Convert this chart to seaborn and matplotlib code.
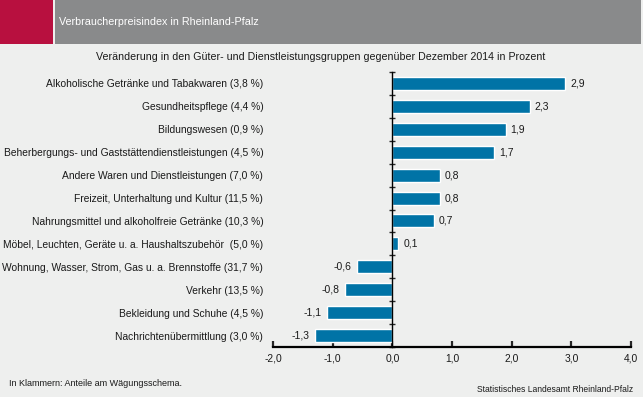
import matplotlib
matplotlib.use("Agg")
import matplotlib.pyplot as plt
import seaborn as sns
import pandas as pd
import numpy as np
from matplotlib.patches import Rectangle
from matplotlib.ticker import FixedLocator

categories = [
    "Alkoholische Getränke und Tabakwaren (3,8 %)",
    "Gesundheitspflege (4,4 %)",
    "Bildungswesen (0,9 %)",
    "Beherbergungs- und Gaststättendienstleistungen (4,5 %)",
    "Andere Waren und Dienstleistungen (7,0 %)",
    "Freizeit, Unterhaltung und Kultur (11,5 %)",
    "Nahrungsmittel und alkoholfreie Getränke (10,3 %)",
    "Möbel, Leuchten, Geräte u. a. Haushaltszubehör  (5,0 %)",
    "Wohnung, Wasser, Strom, Gas u. a. Brennstoffe (31,7 %)",
    "Verkehr (13,5 %)",
    "Bekleidung und Schuhe (4,5 %)",
    "Nachrichtenübermittlung (3,0 %)",
]
values = [2.9, 2.3, 1.9, 1.7, 0.8, 0.8, 0.7, 0.1, -0.6, -0.8, -1.1, -1.3]
x_ticks = [-2.0, -1.0, 0.0, 1.0, 2.0, 3.0, 4.0]

header_text = "Verbraucherpreisindex in Rheinland-Pfalz"
title_text = "Veränderung in den Güter- und Dienstleistungsgruppen gegenüber Dezember 2014 in Prozent"
note_text = "In Klammern: Anteile am Wägungsschema."
source_text = "Statistisches Landesamt Rheinland-Pfalz"

BG = "#EEEFEE"
BAR = "#0073A6"
TXT = "#1a1a1a"

sns.set_theme(style="white")
plt.rcParams["font.family"] = ["Liberation Sans", "DejaVu Sans"]

W, H = 643, 397
fig = plt.figure(figsize=(W / 100, H / 100), dpi=100, facecolor=BG)

# Header
fig.patches.append(Rectangle((0, 1 - 44 / H), 53 / W, 44 / H, transform=fig.transFigure,
                             facecolor="#B8103F", edgecolor="none"))
fig.patches.append(Rectangle((55 / W, 1 - 44 / H), (641 - 55) / W, 44 / H, transform=fig.transFigure,
                             facecolor="#898A8B", edgecolor="none"))
fig.text(59 / W, 1 - 22 / H, header_text, color="white", fontsize=7.75, va="center", ha="left")
fig.text(0.5 * (98 + 544) / W, 1 - 57 / H, title_text, color=TXT, fontsize=7.7,
         va="center", ha="center")

ax = fig.add_axes([273 / W, 1 - 347 / H, (631 - 273) / W, (347 - 72) / H])
ax.set_facecolor(BG)

df = pd.DataFrame({"cat": categories, "val": values})
sns.barplot(data=df, x="val", y="cat", orient="h", color=BAR, saturation=1,
            width=0.57, ax=ax)

ax.set_xlim(-2, 4)
ax.set_ylim(len(categories) - 0.5, -0.5)
ax.set_xlabel("")
ax.set_ylabel("")

for s in ["top", "right"]:
    ax.spines[s].set_visible(False)
ax.spines["left"].set_position(("data", 0))
ax.spines["left"].set_color("black")
ax.spines["left"].set_linewidth(1)
ax.spines["bottom"].set_color("black")
ax.spines["bottom"].set_linewidth(1.6)

ax.set_xticks(x_ticks)
ax.set_xticklabels([f"{t:.1f}".replace(".", ",") for t in x_ticks], fontsize=7.4, color=TXT)
ax.tick_params(axis="x", direction="in", length=4, width=1.6, pad=5, bottom=True)

ax.set_yticks(range(len(categories)))
ax.set_yticklabels(categories, fontsize=7.37, color=TXT)
ax.tick_params(axis="y", which="major", length=0, pad=(392 - 263) * 0.72)
ax.yaxis.set_minor_locator(FixedLocator(np.arange(-0.5, len(categories) - 0.4, 1.0)))
ax.tick_params(axis="y", which="minor", direction="inout", length=5, width=1, left=True)

for i, v in enumerate(values):
    lab = f"{v:.1f}".replace(".", ",")
    if v >= 0:
        ax.annotate(lab, (v, i), xytext=(3.6, 0), textcoords="offset points",
                    ha="left", va="center", fontsize=7.5, color=TXT)
    else:
        ax.annotate(lab, (v, i), xytext=(-3.6, 0), textcoords="offset points",
                    ha="right", va="center", fontsize=7.5, color=TXT)

fig.text(9 / W, 1 - 384 / H, note_text, fontsize=6.45, color=TXT, va="center", ha="left")
fig.text(633 / W, 1 - 390 / H, source_text, fontsize=6.15, color=TXT, va="center", ha="right")

fig.savefig("out.png", dpi=100, facecolor=BG)
